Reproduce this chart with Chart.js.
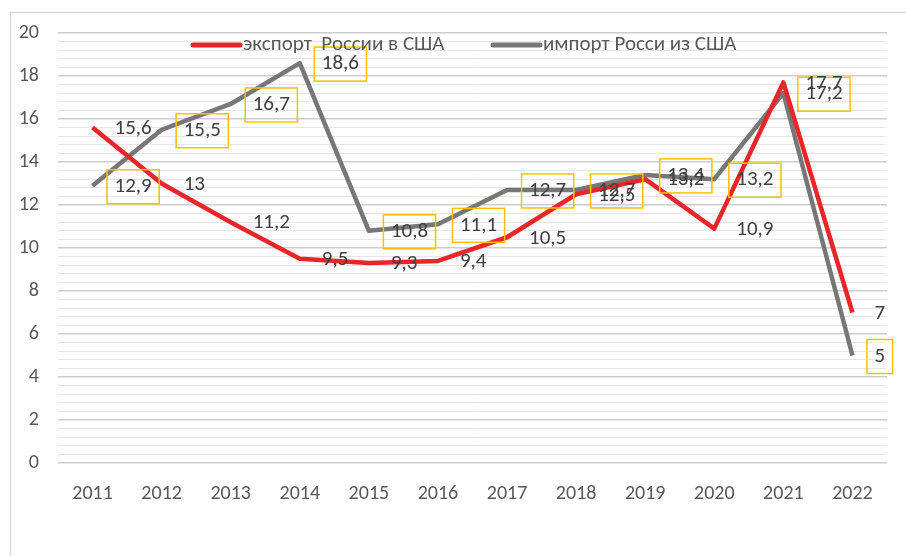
<!DOCTYPE html>
<html>
<head>
<meta charset="utf-8">
<script src="https://cdn.jsdelivr.net/npm/chart.js@4"></script>
<style>
html,body{margin:0;padding:0;background:#fff;}
#wrap{width:906px;height:556px;position:relative;}
</style>
</head>
<body>
<div id="wrap"><canvas id="c" width="906" height="556"></canvas></div>
<script>
const years = ['2011','2012','2013','2014','2015','2016','2017','2018','2019','2020','2021','2022'];
const exportLabel = 'экспорт  России в США';
const importLabel = 'импорт Росси из США';
const exportValues = [15.6, 13, 11.2, 9.5, 9.3, 9.4, 10.5, 12.5, 13.2, 10.9, 17.7, 7];
const importValues = [12.9, 15.5, 16.7, 18.6, 10.8, 11.1, 12.7, 12.7, 13.4, 13.2, 17.2, 5];
const yMin = 0, yMax = 20, yMajorStep = 2, yMinorStep = 0.4;

const FONT = 'Carlito, Lato, sans-serif';
const isMajor = v => Math.abs(v / yMajorStep - Math.round(v / yMajorStep)) < 1e-6;
const fmt = v => String(v).replace('.', ',');

const framePlugin = {
  id: 'frame',
  beforeDraw(chart) {
    const ctx = chart.ctx;
    ctx.save();
    ctx.fillStyle = '#fff';
    ctx.fillRect(0, 0, chart.width, chart.height);
    ctx.strokeStyle = '#d9d9d9';
    ctx.lineWidth = 1.5;
    ctx.beginPath();
    ctx.moveTo(10.5, chart.height);
    ctx.lineTo(10.5, 12.5);
    ctx.lineTo(chart.width, 12.5);
    ctx.stroke();
    ctx.restore();
  }
};

const labelsPlugin = {
  id: 'valueLabels',
  afterDatasetsDraw(chart) {
    const ctx = chart.ctx;
    ctx.save();
    ctx.font = '21px ' + FONT;
    ctx.textBaseline = 'middle';
    ctx.textAlign = 'left';
    const order = [1, 0];
    order.forEach(di => {
      const meta = chart.getDatasetMeta(di);
      const ds = chart.data.datasets[di];
      meta.data.forEach((pt, i) => {
        const txt = fmt(ds.data[i]);
        const w = ctx.measureText(txt).width;
        const x = pt.x + 22, y = pt.y + 1;
        if (ds.boxed) {
          ctx.strokeStyle = '#ffc000';
          ctx.lineWidth = 1.5;
          ctx.strokeRect(x - 7.5, y - 17, w + 15, 34);
        }
        ctx.fillStyle = '#404040';
        ctx.fillText(txt, x, y);
      });
    });
    ctx.restore();
  }
};

const legendPlugin = {
  id: 'innerLegend',
  afterDraw(chart) {
    const ctx = chart.ctx;
    const starts = [193, 493];
    const y = 45;
    ctx.save();
    ctx.font = '21px ' + FONT;
    ctx.textBaseline = 'middle';
    ctx.textAlign = 'left';
    chart.data.datasets.forEach((ds, i) => {
      const x = starts[i];
      ctx.strokeStyle = ds.borderColor;
      ctx.lineWidth = 5;
      ctx.lineCap = 'round';
      ctx.beginPath();
      ctx.moveTo(x, y);
      ctx.lineTo(x + 47, y);
      ctx.stroke();
      ctx.fillStyle = '#595959';
      ctx.fillText(ds.label, x + 50, y);
    });
    ctx.restore();
  }
};

new Chart(document.getElementById('c'), {
  type: 'line',
  data: {
    labels: years,
    datasets: [
      { label: exportLabel, data: exportValues, borderColor: '#e8262a', backgroundColor: '#e8262a',
        borderWidth: 4.5, pointRadius: 0, tension: 0, borderCapStyle: 'butt', borderJoinStyle: 'round', boxed: false },
      { label: importLabel, data: importValues, borderColor: '#777777', backgroundColor: '#777777',
        borderWidth: 4.5, pointRadius: 0, tension: 0, borderCapStyle: 'butt', borderJoinStyle: 'round', boxed: true }
    ]
  },
  options: {
    responsive: false,
    animation: false,
    devicePixelRatio: 1,
    layout: { padding: { left: 0, right: 19, top: 33, bottom: 0 } },
    plugins: { legend: { display: false }, tooltip: { enabled: false } },
    scales: {
      x: {
        offset: true,
        grid: { display: false, drawTicks: false },
        border: { display: false },
        ticks: { color: '#595959', font: { family: FONT, size: 20 }, padding: 19, maxRotation: 0 },
        afterFit(s) { s.height = 93; }
      },
      y: {
        min: yMin, max: yMax,
        grid: {
          drawTicks: false,
          color: ctx => isMajor(ctx.tick.value) ? '#cdcdcd' : '#e6e6e6',
          lineWidth: ctx => isMajor(ctx.tick.value) ? 1.5 : 1
        },
        border: { display: false },
        ticks: {
          stepSize: yMinorStep,
          autoSkip: false,
          color: '#595959',
          font: { family: FONT, size: 20 },
          padding: 19,
          callback: v => isMajor(v) ? String(Math.round(v)) : ''
        },
        afterFit(s) { s.width = 58; }
      }
    }
  },
  plugins: [framePlugin, labelsPlugin, legendPlugin]
});
</script>
</body>
</html>
